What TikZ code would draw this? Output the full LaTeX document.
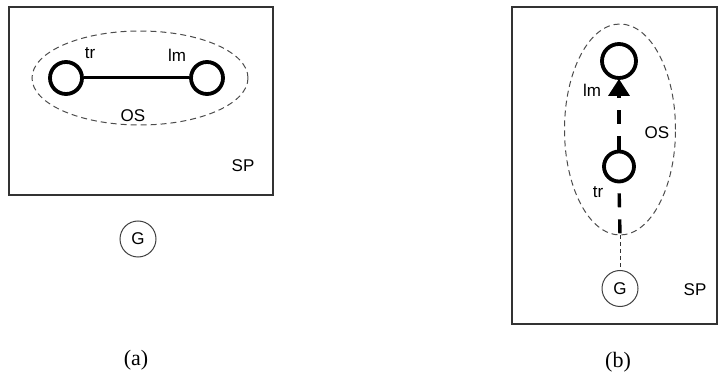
\documentclass[tikz,border=0pt]{standalone}
\usepackage{fontspec}
\setmainfont{Liberation Serif}
\newfontfamily\helv{Liberation Sans}
\usetikzlibrary{arrows.meta,shapes.geometric}
\begin{document}
\begin{tikzpicture}[x=1pt,y=-1pt,
  frame/.style={draw=black!80,line width=1.4pt},
  regionell/.style={draw=black!70,dashed,dash pattern=on 6pt off 4pt,line width=1pt,ellipse,inner sep=0pt},
  ent/.style={circle,draw=black,line width=3.8pt,minimum size=32pt,inner sep=0pt},
  gnode/.style={circle,draw=black!75,line width=1pt,minimum size=36pt,inner sep=0pt,font=\helv\fontsize{17}{17}\selectfont},
  lbl/.style={font=\helv\fontsize{17}{17}\selectfont,inner sep=0pt},
  captext/.style={font=\fontsize{22}{22}\selectfont,inner sep=0pt},
  thickdash/.style={line width=3.4pt,dash pattern=on 14pt off 12pt},
  thindash/.style={draw=black!80,line width=1pt,dash pattern=on 4pt off 3pt}
]
\useasboundingbox (0,0) rectangle (718,382);
% ---------- (a) ----------
\node[frame,draw,minimum width=264pt,minimum height=188pt,inner sep=0pt] (spa) at (141,101) {};
\node[regionell,minimum width=216pt,minimum height=94pt] (osa) at (140,78) {};
\node[ent] (tra) at (66,78) {};
\node[ent] (lma) at (207,78) {};
\draw[line width=3pt] (tra) -- (lma);
\node[lbl] (tra-l) at (90,53) {tr};
\node[lbl] (lma-l) at (177,55) {lm};
\node[lbl] (osa-l) at (133,116) {OS};
\node[lbl] (spa-l) at (243,166) {SP};
\node[gnode] (ga) at (138,239) {G};
\node[captext] (capa) at (136,360) {(a)};
% ---------- (b) ----------
\node[frame,draw,minimum width=205pt,minimum height=317pt,inner sep=0pt] (spb) at (614.5,165.5) {};
\node[regionell,minimum width=111pt,minimum height=211pt] (osb) at (620,129.5) {};
\node[ent,minimum size=34pt] (lmb) at (619,61) {};
\node[ent,minimum size=30pt] (trb) at (619,166.5) {};
\node[gnode] (gb) at (620,288.5) {G};
\draw[thickdash,-{Triangle[length=17pt,width=21pt]},shorten >=-1pt] (trb.north) -- (lmb.south);
\coordinate (osbs) at (osb.south);
\draw[thickdash,dash phase=-10pt] (trb.south) -- (osbs);
\draw[thindash] (osbs) -- (gb.north);
\node[lbl] (lmb-l) at (592,90) {lm};
\node[lbl] (osb-l) at (657,133) {OS};
\node[lbl] (trb-l) at (598,192) {tr};
\node[lbl] (spb-l) at (695,290) {SP};
\node[captext] (capb) at (618,362) {(b)};
\end{tikzpicture}
\end{document}
